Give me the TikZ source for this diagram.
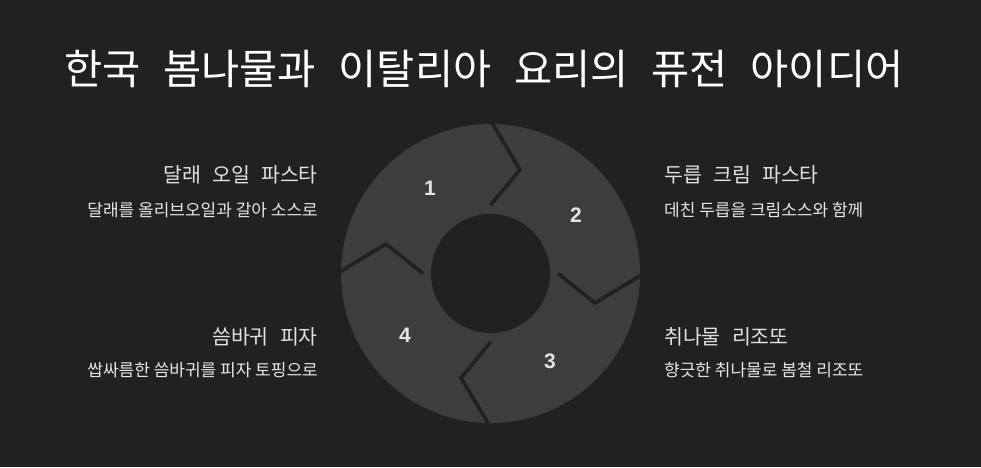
\documentclass[tikz,border=0pt]{standalone}
\usepackage{fontspec}
\setmainfont{Noto Sans CJK KR}
\newfontfamily\widefont{Noto Sans CJK KR}[WordSpace=2.2]
\newfontfamily\titlefont{Noto Sans CJK KR}[WordSpace=2.45]
\newfontfamily\numfont{Liberation Sans}
\usetikzlibrary{calc}
\definecolor{bgcol}{HTML}{212121}
\definecolor{segcol}{HTML}{3D3D3D}
\definecolor{headcol}{HTML}{E2E2E2}
\definecolor{subcol}{HTML}{E6E6E6}
\definecolor{numcol}{HTML}{E4E4E4}
\tikzset{
  titletext/.style={inner sep=0pt, text=white, font=\titlefont\fontsize{41.5}{48}\selectfont},
  headtext/.style={inner sep=0pt, text=headcol, font=\widefont\fontsize{20.5}{24}\selectfont},
  subtext/.style={inner sep=0pt, text=subcol, font=\fontsize{17}{20}\selectfont},
  numtext/.style={inner sep=0pt, text=numcol, font=\numfont\bfseries\fontsize{21}{25}\selectfont},
  sepline/.style={draw=bgcol, line width=3.6pt, line join=miter},
}
\begin{document}
\begin{tikzpicture}[x=1pt,y=-1pt]
\fill[bgcol] (0,0) rectangle (981,467);
\useasboundingbox (0,0) rectangle (981,467);
% title
\node[titletext, anchor=west] (title) at (64,68.5) {한국 봄나물과 이탈리아 요리의 퓨전 아이디어};
% ring
\coordinate (c) at (490.5,273.5);
\fill[segcol] (c) circle[radius=149.5pt];
\fill[bgcol] (c) circle[radius=59.5pt];
% separators
\coordinate (t1) at (490.5,205); \coordinate (t2) at (520,170); \coordinate (t3) at (490.5,120);
\coordinate (r1) at (558,273.5); \coordinate (r2) at (595,303); \coordinate (r3) at (644,273.5);
\coordinate (b1) at (490.5,342); \coordinate (b2) at (461,378); \coordinate (b3) at (490.5,427);
\coordinate (l1) at (423,273.5); \coordinate (l2) at (386,244); \coordinate (l3) at (337,273.5);
\draw[sepline] (t1) -- (t2) -- (t3);
\draw[sepline] (r1) -- (r2) -- (r3);
\draw[sepline] (b1) -- (b2) -- (b3);
\draw[sepline] (l1) -- (l2) -- (l3);
% numbers
\node[numtext] (n1) at (430,188.5) {1};
\node[numtext] (n2) at (576,215) {2};
\node[numtext] (n3) at (550,361) {3};
\node[numtext] (n4) at (405,335) {4};
% labels
\node[headtext, anchor=east] (h1) at (318,175) {달래 오일 파스타};
\node[subtext, anchor=east] (s1) at (318,210) {달래를 올리브오일과 갈아 소스로};
\node[headtext, anchor=west] (h2) at (664,175) {두릅 크림 파스타};
\node[subtext, anchor=west] (s2) at (664,210) {데친 두릅을 크림소스와 함께};
\node[headtext, anchor=east] (h4) at (318,337) {씀바귀 피자};
\node[subtext, anchor=east] (s4) at (318,370) {쌉싸름한 씀바귀를 피자 토핑으로};
\node[headtext, anchor=west] (h3) at (664,337) {취나물 리조또};
\node[subtext, anchor=west] (s3) at (664,370) {향긋한 취나물로 봄철 리조또};
\end{tikzpicture}
\end{document}
